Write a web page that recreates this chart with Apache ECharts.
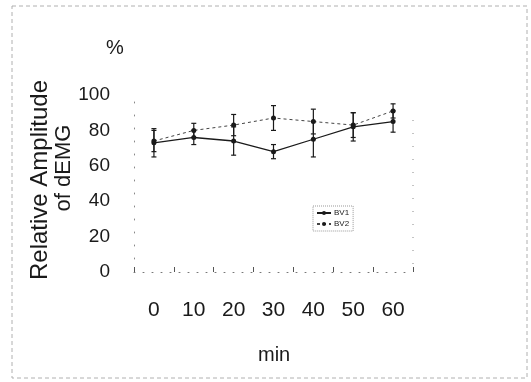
<!DOCTYPE html>
<html>
<head>
<meta charset="utf-8">
<script src="https://cdn.jsdelivr.net/npm/echarts@6/dist/echarts.min.js"></script>
<style>html,body{margin:0;padding:0;background:#fff}#c{width:531px;height:382px}</style>
</head>
<body>
<div id="c"></div>
<script>
var categories = ['0', '10', '20', '30', '40', '50', '60'];
var bv1 = [73, 76, 74, 68, 75, 82, 85];
var bv1Err = [8, 4, 8, 4, 10, 8, 6];
var bv2 = [74, 80, 83, 87, 85, 83, 91];
var bv2Err = [6, 4, 6, 7, 7, 7, 4];
var yTicks = [0, 20, 40, 60, 80, 100];

var FONT = '"Liberation Sans", Arial, sans-serif';
var INK = '#1a1a1a';

function errData(vals, errs) {
  return vals.map(function (v, i) { return [i, v - errs[i], v + errs[i]]; });
}
function errRender(params, api) {
  var x = api.value(0);
  var lo = api.coord([x, api.value(1)]);
  var hi = api.coord([x, api.value(2)]);
  var c = 2.5;
  return {
    type: 'group',
    children: [
      { type: 'line', shape: { x1: lo[0], y1: lo[1], x2: hi[0], y2: hi[1] }, style: { stroke: INK, lineWidth: 1.2 } },
      { type: 'line', shape: { x1: lo[0] - c, y1: lo[1], x2: lo[0] + c, y2: lo[1] }, style: { stroke: INK, lineWidth: 1.2 } },
      { type: 'line', shape: { x1: hi[0] - c, y1: hi[1], x2: hi[0] + c, y2: hi[1] }, style: { stroke: INK, lineWidth: 1.2 } }
    ]
  };
}

var chart = echarts.init(document.getElementById('c'), null, { renderer: 'canvas' });
chart.setOption({
  animation: false,
  backgroundColor: '#fff',
  grid: { left: 134, right: 118, top: 95, bottom: 110 },
  graphic: [
    { type: 'rect', shape: { x: 12, y: 6, width: 515, height: 372 }, style: { fill: 'none', stroke: '#b0b0b0', lineWidth: 1, lineDash: [4, 3] }, silent: true },
    { type: 'line', shape: { x1: 413, y1: 120, x2: 413, y2: 272 }, style: { stroke: '#888', lineWidth: 1, lineDash: [1, 12] }, silent: true },
    { type: 'text', left: 106, top: 38, style: { text: '%', font: '20px ' + FONT, fill: INK } },
    { type: 'text', left: 258, top: 345, style: { text: 'min', font: '20px ' + FONT, fill: INK } },
    { type: 'text', x: 40, y: 180, rotation: Math.PI / 2, style: { text: 'Relative Amplitude', font: '24px ' + FONT, fill: INK, align: 'center', verticalAlign: 'middle' } },
    { type: 'text', x: 64, y: 168, rotation: Math.PI / 2, style: { text: 'of dEMG', font: '22px ' + FONT, fill: INK, align: 'center', verticalAlign: 'middle' } }
  ],
  legend: {
    orient: 'vertical',
    left: 313, top: 206,
    itemWidth: 14, itemHeight: 5, itemGap: 3,
    padding: [3, 4, 3, 3],
    borderColor: '#999', borderWidth: 1, borderType: 'dotted',
    textStyle: { fontSize: 8, fontFamily: FONT, color: INK, padding: [0, 0, 0, -2] },
    data: ['BV1', 'BV2']
  },
  xAxis: {
    type: 'category',
    data: categories,
    boundaryGap: true,
    axisLine: { lineStyle: { color: '#777', type: [1, 8], width: 1 } },
    axisTick: { show: true, inside: true, length: 5, lineStyle: { color: '#555' } },
    axisLabel: { fontSize: 21, fontFamily: FONT, color: INK, margin: 28 }
  },
  yAxis: {
    type: 'value',
    min: 0, max: 100, interval: 20,
    axisLine: { show: true, lineStyle: { color: '#888', type: [1, 12], width: 1 } },
    axisTick: { show: false },
    splitLine: { show: false },
    axisLabel: {
      fontSize: 19, fontFamily: FONT, color: INK, margin: 24,
      formatter: function (v) { return yTicks.indexOf(v) >= 0 ? String(v) : ''; }
    }
  },
  series: [
    { name: 'BV1', type: 'line', data: bv1, symbol: 'circle', symbolSize: 5,
      lineStyle: { color: INK, width: 1.3 }, itemStyle: { color: INK }, z: 3 },
    { name: 'BV2', type: 'line', data: bv2, symbol: 'circle', symbolSize: 5,
      lineStyle: { color: '#444', width: 1, type: [3, 3] }, itemStyle: { color: INK }, z: 3 },
    { type: 'custom', data: errData(bv1, bv1Err), renderItem: errRender, encode: { x: 0, y: [1, 2] }, z: 2, silent: true },
    { type: 'custom', data: errData(bv2, bv2Err), renderItem: errRender, encode: { x: 0, y: [1, 2] }, z: 2, silent: true }
  ]
});
</script>
</body>
</html>
